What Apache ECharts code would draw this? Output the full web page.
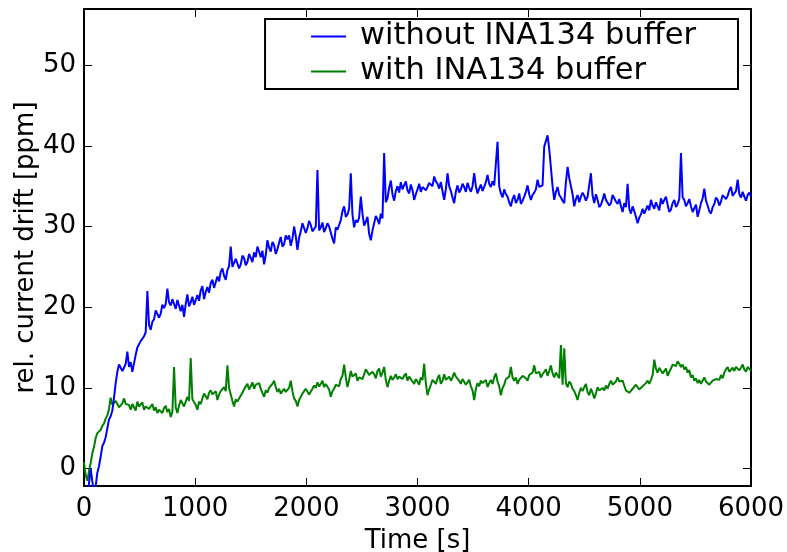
<!DOCTYPE html>
<html>
<head>
<meta charset="utf-8">
<title>Current drift</title>
<script src="https://cdn.jsdelivr.net/npm/echarts@6/dist/echarts.min.js"></script>
<style>
  html, body { margin: 0; padding: 0; background: #ffffff; }
  #chart { width: 787px; height: 552px; }
</style>
</head>
<body>
<div id="chart"></div>
<script>
// Sampling interval of both recordings, in seconds
const sampleStep = 15;

// Relative current drift [ppm] without the INA134 buffer, one value per sample
const driftWithout = [
  -4.0, -3.2, -3.5, -1.8, 0.0, -1.6, -3.0, -2.2, -0.5, 0.3, 1.5, 2.8, 3.2, 3.9, 5.0, 6.1, 6.5, 7.2, 8.8, 10.6,
  12.0, 12.9, 12.8, 12.1, 12.5, 13.0, 14.5, 12.6, 13.2, 12.0, 12.2, 14.1, 15.0, 15.1, 15.8, 15.6, 16.4, 16.9, 22.0, 17.8,
  17.2, 18.2, 18.5, 19.6, 19.7, 18.7, 19.2, 20.3, 19.9, 20.4, 22.3, 20.6, 20.2, 21.0, 20.4, 19.8, 20.9, 20.2, 19.5, 20.3,
  18.8, 20.4, 21.6, 20.1, 20.6, 21.3, 20.3, 20.9, 21.5, 20.8, 22.1, 22.6, 21.0, 21.9, 22.5, 21.8, 23.0, 23.4, 22.4, 23.1,
  23.8, 23.2, 24.4, 24.8, 23.9, 23.4, 24.6, 25.1, 27.5, 25.0, 25.2, 26.0, 25.9, 24.8, 25.3, 26.4, 26.1, 25.2, 25.6, 26.6,
  26.4, 25.6, 26.8, 26.2, 27.5, 26.9, 26.2, 27.0, 25.3, 26.5, 28.3, 27.4, 26.9, 28.1, 27.7, 26.6, 27.2, 28.0, 28.7, 27.5,
  27.8, 28.9, 28.4, 28.9, 27.6, 28.5, 30.0, 28.8, 27.1, 28.6, 29.4, 30.4, 30.6, 29.2, 29.8, 30.7, 30.2, 29.4, 29.4, 30.0,
  37.0, 29.5, 29.9, 30.5, 29.3, 29.8, 30.4, 30.0, 29.8, 28.5, 27.9, 29.9, 29.6, 29.7, 30.8, 31.9, 32.5, 31.2, 31.5, 32.2,
  36.6, 31.5, 29.9, 30.8, 30.5, 31.1, 33.7, 31.6, 30.1, 30.6, 31.2, 29.1, 28.3, 29.5, 30.4, 31.3, 30.9, 30.3, 31.6, 31.0,
  39.1, 33.0, 33.5, 34.8, 35.7, 34.0, 33.2, 34.4, 35.0, 34.2, 35.5, 34.6, 34.8, 35.6, 34.5, 34.1, 35.2, 34.5, 33.3, 34.0,
  34.6, 35.3, 34.3, 34.9, 35.1, 34.5, 34.9, 35.4, 35.6, 35.0, 36.2, 35.6, 35.3, 34.7, 35.5, 34.4, 33.3, 34.6, 36.6, 35.0,
  34.4, 33.6, 32.9, 34.3, 35.1, 34.2, 34.6, 35.3, 34.9, 34.3, 35.4, 34.8, 34.3, 35.0, 36.6, 35.0, 34.1, 34.7, 35.2, 34.4,
  34.9, 35.5, 36.4, 35.3, 34.9, 35.6, 35.1, 35.2, 40.5, 35.0, 34.1, 33.6, 34.6, 34.0, 33.7, 33.0, 32.5, 33.4, 33.9, 32.9,
  33.3, 34.1, 32.8, 33.2, 33.7, 34.3, 35.1, 34.0, 33.3, 33.9, 34.2, 34.6, 35.8, 34.9, 34.7, 35.1, 39.9, 40.6, 41.3, 39.6,
  39.5, 35.0, 33.3, 34.3, 34.9, 33.9, 33.6, 33.2, 32.9, 35.5, 37.4, 36.0, 35.8, 34.0, 32.5, 33.4, 33.9, 33.0, 33.7, 34.2,
  33.8, 33.2, 33.7, 33.9, 36.6, 33.8, 32.9, 34.0, 33.3, 32.4, 32.7, 33.3, 34.1, 33.3, 33.4, 32.6, 32.9, 33.9, 33.7, 33.1,
  32.8, 33.4, 32.5, 31.8, 32.9, 32.4, 35.3, 32.2, 31.6, 32.5, 31.9, 31.2, 30.4, 31.1, 31.5, 32.2, 31.6, 32.1, 32.6, 32.0,
  33.3, 32.6, 32.2, 33.0, 32.5, 32.0, 33.5, 32.8, 33.3, 33.7, 32.7, 31.8, 32.1, 32.9, 33.3, 32.4, 32.8, 33.4, 39.1, 33.6,
  33.3, 32.5, 32.9, 33.4, 32.5, 31.8, 32.0, 32.7, 31.2, 32.0, 32.9, 33.5, 34.7, 33.2, 32.6, 31.9, 31.6, 32.4, 32.8, 33.6,
  33.3, 32.6, 33.1, 33.9, 34.1, 33.4, 33.8, 34.5, 34.9, 33.8, 33.7, 34.4, 35.8, 34.0, 33.6, 34.3, 33.7, 33.2, 33.9, 34.2,
  33.7
];

// Relative current drift [ppm] with the INA134 buffer, same sampling
const driftWith = [
  0.8, -0.8, -1.5, -0.3, 0.7, 1.9, 2.7, 3.8, 4.4, 4.5, 4.8, 5.3, 5.6, 6.2, 6.6, 7.4, 8.8, 7.9, 7.7, 8.4,
  8.0, 7.6, 7.4, 8.1, 8.7, 8.0, 8.2, 7.9, 7.3, 8.0, 7.6, 7.2, 8.3, 7.7, 7.8, 8.2, 7.3, 7.7, 7.9, 7.4,
  7.7, 8.0, 7.2, 7.6, 6.9, 7.3, 7.5, 6.9, 7.5, 7.8, 7.0, 7.4, 6.4, 7.0, 12.6, 7.6, 6.9, 7.8, 8.5, 8.1,
  7.7, 8.3, 8.9, 8.4, 13.7, 8.6, 8.5, 7.9, 7.3, 8.3, 8.0, 8.7, 9.3, 9.1, 8.6, 9.4, 9.7, 9.2, 9.0, 9.6,
  8.5, 9.2, 9.6, 9.4, 10.1, 9.6, 12.8, 10.0, 9.2, 8.4, 7.7, 8.6, 8.3, 8.7, 8.9, 9.4, 9.6, 10.2, 10.5, 9.8,
  10.2, 10.7, 9.9, 10.4, 10.3, 10.6, 9.9, 9.4, 8.9, 9.7, 9.4, 10.0, 10.1, 10.5, 10.9, 10.1, 9.5, 9.9, 9.3, 9.6,
  9.9, 9.5, 9.3, 10.0, 10.9, 9.6, 8.7, 8.4, 7.7, 8.5, 8.9, 9.3, 9.4, 9.9, 9.7, 9.2, 9.4, 9.9, 10.3, 10.0,
  10.7, 10.2, 10.5, 10.9, 10.1, 10.5, 10.6, 9.8, 8.9, 9.6, 9.9, 10.4, 10.5, 10.2, 11.1, 11.5, 12.9, 11.3, 10.1, 11.0,
  12.1, 11.4, 11.2, 11.8, 10.9, 11.3, 11.5, 11.1, 11.7, 12.3, 12.1, 11.6, 11.4, 12.0, 11.7, 11.2, 12.1, 12.4, 11.4, 11.9,
  12.6, 11.0, 10.1, 10.9, 11.5, 11.0, 11.3, 11.7, 11.1, 11.4, 11.6, 11.1, 11.5, 11.8, 10.9, 11.4, 11.2, 10.8, 10.5, 11.1,
  10.8, 10.4, 11.3, 11.0, 13.0, 10.6, 9.1, 9.8, 10.4, 11.0, 10.9, 10.5, 11.2, 11.6, 10.5, 10.9, 11.7, 11.0, 10.9, 11.4,
  10.9, 11.3, 11.9, 11.4, 11.2, 10.9, 10.5, 11.1, 10.9, 10.4, 10.5, 11.0, 10.2, 9.7, 8.5, 9.9, 10.6, 10.2, 10.9, 10.6,
  10.5, 11.0, 10.1, 10.6, 11.0, 10.5, 11.3, 11.8, 10.8, 10.2, 9.1, 10.0, 10.4, 11.1, 10.9, 11.4, 12.6, 11.3, 10.9, 11.3,
  10.5, 11.0, 11.2, 11.5, 11.7, 11.2, 10.9, 11.6, 11.5, 11.9, 12.8, 11.8, 11.6, 12.0, 11.3, 11.7, 11.9, 12.3, 11.5, 12.1,
  12.8, 11.8, 11.3, 11.9, 12.0, 11.2, 15.3, 10.4, 14.9, 10.6, 10.1, 10.8, 10.5, 9.9, 9.6, 9.1, 8.5, 9.4, 10.0, 9.6,
  10.1, 10.5, 9.5, 9.1, 9.9, 9.4, 8.7, 9.3, 10.1, 9.7, 9.6, 10.0, 9.7, 10.3, 9.9, 10.5, 10.9, 10.4, 10.2, 10.8,
  11.3, 10.8, 10.6, 10.9, 10.3, 9.7, 9.9, 9.4, 9.3, 9.9, 9.8, 10.4, 10.3, 9.8, 9.6, 10.2, 10.1, 10.6, 10.9, 10.5,
  11.0, 11.6, 13.5, 12.4, 11.9, 12.5, 12.3, 11.8, 12.0, 12.4, 11.5, 12.0, 12.4, 12.9, 13.1, 12.7, 13.3, 13.0, 12.6, 12.9,
  12.3, 12.6, 11.9, 12.2, 11.3, 11.6, 10.9, 11.2, 10.6, 11.0, 10.5, 10.9, 11.3, 10.8, 10.8, 10.4, 10.3, 10.9, 10.7, 11.1,
  11.3, 11.0, 11.6, 11.2, 11.9, 12.3, 12.6, 12.0, 12.2, 12.5, 12.1, 12.6, 12.8, 12.2, 12.5, 12.9, 12.3, 12.0, 12.6, 12.8,
  12.1
];

const seriesNames = ['without INA134 buffer', 'with INA134 buffer'];
const seriesColors = ['#0000ff', '#008000'];
const yTickValues = [0, 10, 20, 30, 40, 50];

const FONT = 'DejaVu Sans';

function toPoints(values) {
  return values.map((v, i) => [i * sampleStep, v]);
}

const frame = { show: true, onZero: false, lineStyle: { color: '#000', width: 2 } };
const innerTick = { show: true, inside: true, length: 8, lineStyle: { color: '#000', width: 1 } };
const plainNumber = v => String(v);

const chart = echarts.init(document.getElementById('chart'), null, { renderer: 'canvas' });

chart.setOption({
  animation: false,
  backgroundColor: '#ffffff',
  textStyle: { fontFamily: FONT },
  grid: { left: 84, right: 36, top: 9, bottom: 66, containLabel: false, outerBoundsMode: 'none' },
  legend: {
    orient: 'vertical',
    right: 49,
    top: 19,
    padding: [2, 42, 2, 46],
    itemGap: 4,
    itemWidth: 35,
    itemHeight: 2,
    icon: 'rect',
    backgroundColor: '#ffffff',
    borderColor: '#000',
    borderWidth: 2,
    borderRadius: 0,
    data: seriesNames,
    textStyle: { fontFamily: FONT, fontSize: 30.5, color: '#000', lineHeight: 30, padding: [0, 0, 0, 9] }
  },
  xAxis: [
    {
      type: 'value', position: 'bottom', min: 0, max: 6000, interval: 1000,
      name: 'Time [s]', nameLocation: 'middle', nameGap: 42,
      nameTextStyle: { fontFamily: FONT, fontSize: 26, color: '#000' },
      axisLine: frame, axisTick: innerTick,
      axisLabel: { fontFamily: FONT, fontSize: 26, color: '#000', margin: 10, formatter: plainNumber },
      splitLine: { show: false }
    },
    {
      type: 'value', position: 'top', min: 0, max: 6000, interval: 1000,
      axisLine: frame, axisTick: innerTick,
      axisLabel: { show: false }, splitLine: { show: false }
    }
  ],
  yAxis: [
    {
      type: 'value', position: 'left', min: -2.15, max: 56.95,
      name: 'rel. current drift [ppm]', nameLocation: 'middle', nameGap: 45, nameRotate: 90,
      nameMoveOverlap: false,
      nameTextStyle: { fontFamily: FONT, fontSize: 26, color: '#000' },
      axisLine: frame,
      axisTick: Object.assign({}, innerTick, { customValues: yTickValues }),
      axisLabel: { fontFamily: FONT, fontSize: 26, color: '#000', margin: 8, customValues: yTickValues, formatter: plainNumber },
      splitLine: { show: false }
    },
    {
      type: 'value', position: 'right', min: -2.15, max: 56.95,
      axisLine: frame,
      axisTick: Object.assign({}, innerTick, { customValues: yTickValues }),
      axisLabel: { show: false, customValues: yTickValues },
      splitLine: { show: false }
    }
  ],
  series: [
    {
      name: seriesNames[0], type: 'line', xAxisIndex: 0, yAxisIndex: 0,
      data: toPoints(driftWithout), showSymbol: false, symbol: 'none',
      color: seriesColors[0], lineStyle: { color: seriesColors[0], width: 2 }, clip: true, z: 3
    },
    {
      name: seriesNames[1], type: 'line', xAxisIndex: 0, yAxisIndex: 0,
      data: toPoints(driftWith), showSymbol: false, symbol: 'none',
      color: seriesColors[1], lineStyle: { color: seriesColors[1], width: 2 }, clip: true, z: 2
    }
  ]
});
</script>
</body>
</html>
